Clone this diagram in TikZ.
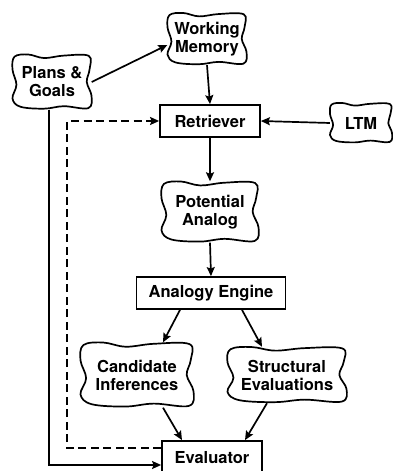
\documentclass[tikz,border=0pt]{standalone}
\usepackage{fontspec}
\setmainfont{TeX Gyre Heros}
\usetikzlibrary{arrows.meta,positioning,calc}

\begin{document}
\begin{tikzpicture}[
  x=1pt, y=1pt,
  font=\fontsize{16.5}{18}\selectfont\bfseries,
  unit/.style={draw, line width=1.8pt, inner sep=0pt, minimum height=32pt},
  blob/.style={inner sep=0pt, align=center},
  blobline/.style={line width=1.7pt, line join=round},
  flow/.style={-{Stealth[length=9pt,width=8pt,inset=1.5pt]}, line width=1.7pt},
  feedback/.style={flow, dash pattern=on 8pt off 4.5pt},
]
  \useasboundingbox (0,0) rectangle (392,471);

  \node[blob, minimum width=79pt, minimum height=55pt] (plans) at (52,389) {Plans \&\\Goals};
  \node[blob, minimum width=79pt, minimum height=52pt] (wm) at (207,432) {Working\\Memory};
  \node[unit, minimum width=100pt] (retr) at (210,350) {Retriever};
  \node[blob, minimum width=62pt, minimum height=40pt] (ltm) at (361,348) {LTM};
  \node[blob, minimum width=97pt, minimum height=61pt] (pa) at (210,259) {Potential\\Analog};
  \node[unit, minimum width=149pt] (ae) at (211,178) {Analogy Engine};
  \node[blob, minimum width=113pt, minimum height=65pt] (ci) at (137,96) {Candidate\\Inferences};
  \node[blob, minimum width=119pt, minimum height=56pt] (se) at (287,96) {Structural\\Evaluations};
  \node[unit, minimum width=100pt, minimum height=33pt] (eval) at (212,13.5) {Evaluator};

  % wavy outlines round the cloud nodes
  \foreach \n/\w/\h in {plans/39.5/27.5, wm/39.5/26, ltm/31/20, pa/48.5/30.5, ci/56.5/32.5, se/59.5/28}
    \draw[blobline, shift={(\n.center)}, x=\w pt, y=\h pt]
      plot[smooth cycle, tension=0.6] coordinates {
        (-0.95,0.92) (-0.6,1.0) (-0.2,0.87) (0.3,0.96) (0.93,0.95)
        (0.95,0.45) (0.88,0.0) (1.0,-0.5) (0.92,-0.95) (0.3,-0.88)
        (-0.2,-0.97) (-0.8,-0.9) (-1.0,-0.6) (-0.9,-0.1) (-1.0,0.45)};

  \draw[flow] (plans.east) -- ([yshift=-6pt]wm.west);
  \draw[flow] (wm.south) -- (retr.north);
  \draw[flow] (ltm.west) -- (retr.east);
  \draw[flow] (retr.south) -- (pa.north);
  \draw[flow] (pa.south) -- (ae.north);
  \draw[flow] ([xshift=-31pt]ae.south) -- ([xshift=26pt]ci.north);
  \draw[flow] ([xshift=31pt]ae.south) -- ([xshift=-25pt]se.north);
  \draw[flow] ([xshift=26pt]ci.south) -- ([xshift=-30pt]eval.north);
  \draw[flow] ([xshift=-20pt]se.south) -- ([xshift=33pt]eval.north);
  \draw[flow] ([xshift=-3pt]plans.south) |- ([yshift=-7.5pt]eval.west);
  \draw[feedback] ([yshift=-8pt]eval.north west) -| ([xshift=-92pt]retr.west) -- (retr.west);
\end{tikzpicture}
\end{document}
